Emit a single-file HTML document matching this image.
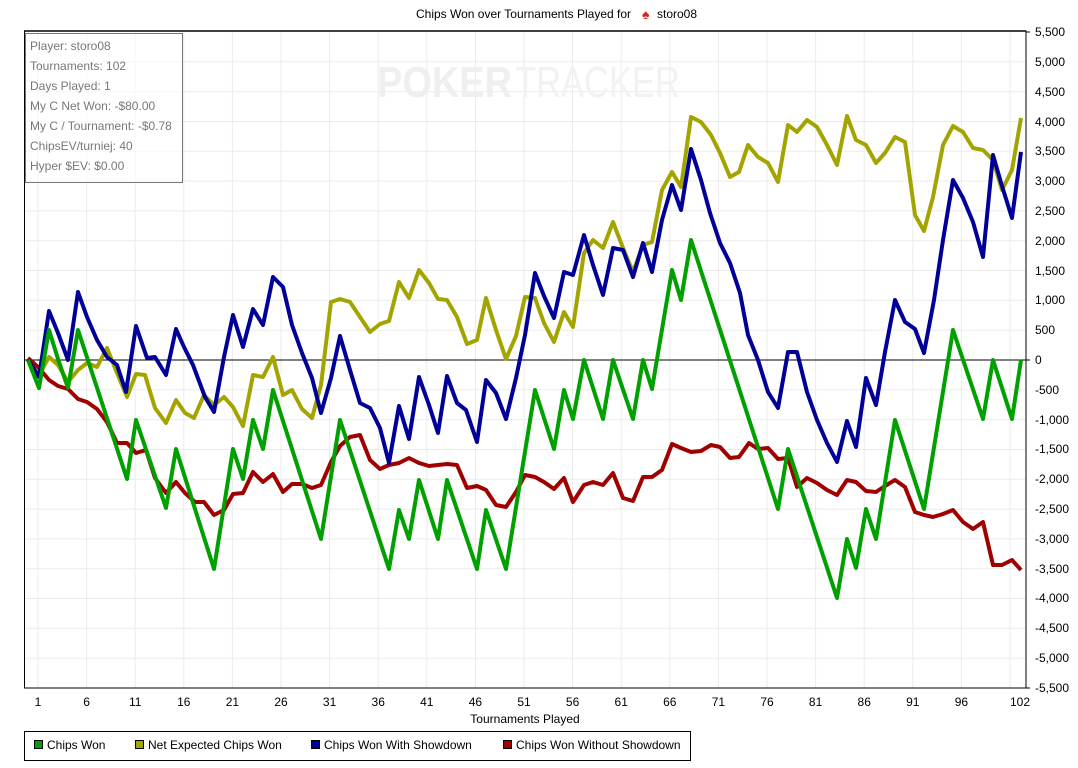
<!DOCTYPE html>
<html><head><meta charset="utf-8"><style>
body{margin:0;background:#fff;}
svg{display:block;font-family:"Liberation Sans",Arial,sans-serif;}
</style></head><body>
<svg width="1078" height="768" viewBox="0 0 1078 768" xmlns="http://www.w3.org/2000/svg">
<rect width="1078" height="768" fill="#fff"/>
<g stroke="#ebebeb" stroke-width="1">
<line x1="24" x2="1026" y1="61.8" y2="61.8"/><line x1="24" x2="1026" y1="91.6" y2="91.6"/><line x1="24" x2="1026" y1="121.5" y2="121.5"/><line x1="24" x2="1026" y1="151.3" y2="151.3"/><line x1="24" x2="1026" y1="181.1" y2="181.1"/><line x1="24" x2="1026" y1="210.9" y2="210.9"/><line x1="24" x2="1026" y1="240.7" y2="240.7"/><line x1="24" x2="1026" y1="270.5" y2="270.5"/><line x1="24" x2="1026" y1="300.4" y2="300.4"/><line x1="24" x2="1026" y1="330.2" y2="330.2"/><line x1="24" x2="1026" y1="389.8" y2="389.8"/><line x1="24" x2="1026" y1="419.6" y2="419.6"/><line x1="24" x2="1026" y1="449.5" y2="449.5"/><line x1="24" x2="1026" y1="479.3" y2="479.3"/><line x1="24" x2="1026" y1="509.1" y2="509.1"/><line x1="24" x2="1026" y1="538.9" y2="538.9"/><line x1="24" x2="1026" y1="568.7" y2="568.7"/><line x1="24" x2="1026" y1="598.5" y2="598.5"/><line x1="24" x2="1026" y1="628.4" y2="628.4"/><line x1="24" x2="1026" y1="658.2" y2="658.2"/>
<line y1="31" y2="688" x1="38" x2="38"/><line y1="31" y2="688" x1="86.6" x2="86.6"/><line y1="31" y2="688" x1="135.2" x2="135.2"/><line y1="31" y2="688" x1="183.8" x2="183.8"/><line y1="31" y2="688" x1="232.4" x2="232.4"/><line y1="31" y2="688" x1="281" x2="281"/><line y1="31" y2="688" x1="329.6" x2="329.6"/><line y1="31" y2="688" x1="378.2" x2="378.2"/><line y1="31" y2="688" x1="426.8" x2="426.8"/><line y1="31" y2="688" x1="475.4" x2="475.4"/><line y1="31" y2="688" x1="524" x2="524"/><line y1="31" y2="688" x1="572.6" x2="572.6"/><line y1="31" y2="688" x1="621.2" x2="621.2"/><line y1="31" y2="688" x1="669.8" x2="669.8"/><line y1="31" y2="688" x1="718.4" x2="718.4"/><line y1="31" y2="688" x1="767" x2="767"/><line y1="31" y2="688" x1="815.6" x2="815.6"/><line y1="31" y2="688" x1="864.2" x2="864.2"/><line y1="31" y2="688" x1="912.8" x2="912.8"/><line y1="31" y2="688" x1="961.4" x2="961.4"/><line y1="31" y2="688" x1="1010" x2="1010"/>
</g>
<text x="377" y="97" font-size="44" font-weight="bold" fill="#efefef" textLength="135" lengthAdjust="spacingAndGlyphs">POKER</text>
<text x="515" y="97" font-size="44" fill="#f2f2f2" textLength="165" lengthAdjust="spacingAndGlyphs">TRACKER</text>
<line x1="24" x2="1026" y1="360" y2="360" stroke="#000" stroke-width="1"/>
<g fill="none" stroke-width="4" stroke-linejoin="round">
<polyline stroke="#a4a400" points="28,360 39,375 49,357 58,365 68,382 78,370 87,363 97,367 107,348 117,373 127,397 136,374 145,375 155,408 166,423 176,400 185,413 194,418 204,395 214,405 224,397 233,407 243,426 253,375 263,377 273,357 283,395 292,390 302,409 312,418 321,385 331,302 340,299 350,302 360,317 370,332 380,324 389,321 399,282 409,298 419,270 429,283 438,299 447,300 457,317 467,344 477,340 486,298 496,330 506,359 516,336 525,297 535,298 544,323 554,342 564,312 573,327 584,253 593,240 603,248 613,222 623,248 633,272 643,245 652,242 662,190 672,172 681,187 691,117 701,122 711,135 720,153 730,177 739,172 748,145 758,157 768,163 778,182 788,125 797,132 807,120 817,127 827,145 837,165 847,116 856,140 866,145 876,163 885,153 895,137 905,142 915,215 924,231 933,197 943,145 953,126 963,132 973,148 983,150 993,160 1002,190 1012,170 1021,118"/>
<polyline stroke="#a00000" points="28,358 39,368 49,380 58,386 68,389 78,399 87,402 97,409 107,422 117,443 127,443 136,453 146,450 155,478 166,493 176,482 185,493 195,502 204,502 214,515 224,510 233,494 243,493 253,472 263,482 273,474 283,492 292,484 302,484 312,488 321,485 331,462 340,446 350,437 360,435 370,460 380,469 389,465 399,463 409,458 419,463 429,466 438,465 447,464 457,465 467,488 477,486 486,490 496,505 506,507 516,492 525,475 535,477 544,482 554,489 564,478 573,502 584,485 593,482 603,485 613,473 623,498 633,501 643,477 652,477 662,470 672,444 681,448 691,452 701,451 711,445 720,447 730,458 739,457 749,443 758,449 768,448 778,459 788,458 797,487 807,478 817,483 827,490 837,495 847,480 856,482 866,491 876,492 885,486 895,480 905,487 915,512 924,515 933,517 943,514 953,510 963,522 973,529 983,522 993,565 1002,565 1012,560 1021,570"/>
<polyline stroke="#000099" points="28,360 39,377 49,311 58,333 68,360 78,292 87,317 97,340 107,357 117,365 126,392 136,326 147,358 155,357 166,375 176,329 184,347 193,365 205,397 214,412 224,357 233,315 243,347 253,309 263,325 273,277 283,287 292,325 302,353 312,378 321,413 331,378 340,336 350,370 360,403 370,408 380,428 389,463 399,406 409,439 419,377 429,405 438,433 447,376 457,403 466,410 477,442 486,380 496,393 506,419 516,378 525,335 535,273 544,296 554,318 564,272 573,275 584,235 593,265 603,295 613,248 623,250 633,277 643,243 652,272 662,220 672,185 681,210 691,149 701,180 710,213 720,243 730,263 740,293 748,335 758,360 768,392 778,408 788,352 797,352 807,392 817,420 827,443 837,462 847,421 856,447 866,378 876,405 885,352 895,300 905,322 915,329 924,353 934,300 943,240 953,180 963,198 973,222 983,257 993,155 1002,186 1012,218 1021,152"/>
<polyline stroke="#00a000" points="28,360 39,388 49,330 58,359 68,388 78,330 127,479 136,420 166,508 176,449 214,569 233,449 243,479 253,420 263,449 273,390 321,539 340,420 389,569 399,510 409,539 419,480 438,539 447,480 477,569 486,510 506,569 535,390 554,449 564,390 573,419 584,360 603,419 613,360 633,419 643,360 652,389 672,270 681,300 691,240 778,509 788,449 837,598 847,539 856,568 866,509 876,539 895,420 924,509 953,330 983,419 993,360 1012,419 1021,360"/>
</g>
<rect x="24.5" y="31" width="1001.5" height="657" fill="none" stroke="#000" stroke-width="1"/>
<line x1="24" x2="1026" y1="31" y2="31" stroke="#000" stroke-width="1.5"/>
<rect x="25.5" y="33.5" width="157" height="149" fill="#fff" fill-opacity="0.6" stroke="#777" stroke-width="1"/>
<g font-size="12" fill="#777">
<text x="30" y="50">Player: storo08</text>
<text x="30" y="70">Tournaments: 102</text>
<text x="30" y="90">Days Played: 1</text>
<text x="30" y="110">My C Net Won: -$80.00</text>
<text x="30" y="130">My C / Tournament: -$0.78</text>
<text x="30" y="150">ChipsEV/turniej: 40</text>
<text x="30" y="170">Hyper $EV: $0.00</text>
</g>
<text x="416" y="18" font-size="12" fill="#000">Chips Won over Tournaments Played for</text>
<text x="642" y="19" font-size="14" fill="#d22">♠</text>
<text x="657" y="18" font-size="12" fill="#000">storo08</text>
<g font-size="12" fill="#000">
<g stroke="#000"><line x1="1026" x2="1030" y1="32" y2="32"/><line x1="1026" x2="1030" y1="360" y2="360"/><line x1="1026" x2="1030" y1="688" y2="688"/></g>
<text x="1035" y="36">5,500</text><text x="1035" y="66">5,000</text><text x="1035" y="96">4,500</text><text x="1035" y="126">4,000</text><text x="1035" y="155">3,500</text><text x="1035" y="185">3,000</text><text x="1035" y="215">2,500</text><text x="1035" y="245">2,000</text><text x="1035" y="275">1,500</text><text x="1035" y="304">1,000</text><text x="1035" y="334">500</text><text x="1035" y="364">0</text><text x="1035" y="394">-500</text><text x="1035" y="424">-1,000</text><text x="1035" y="453">-1,500</text><text x="1035" y="483">-2,000</text><text x="1035" y="513">-2,500</text><text x="1035" y="543">-3,000</text><text x="1035" y="573">-3,500</text><text x="1035" y="602">-4,000</text><text x="1035" y="632">-4,500</text><text x="1035" y="662">-5,000</text><text x="1035" y="692">-5,500</text>
</g>
<g font-size="12" fill="#000" text-anchor="middle">
<text x="38" y="706">1</text><text x="86.6" y="706">6</text><text x="135.2" y="706">11</text><text x="183.8" y="706">16</text><text x="232.4" y="706">21</text><text x="281" y="706">26</text><text x="329.6" y="706">31</text><text x="378.2" y="706">36</text><text x="426.8" y="706">41</text><text x="475.4" y="706">46</text><text x="524" y="706">51</text><text x="572.6" y="706">56</text><text x="621.2" y="706">61</text><text x="669.8" y="706">66</text><text x="718.4" y="706">71</text><text x="767" y="706">76</text><text x="815.6" y="706">81</text><text x="864.2" y="706">86</text><text x="912.8" y="706">91</text><text x="961.4" y="706">96</text><text x="1020" y="706">102</text>
<text x="525" y="723">Tournaments Played</text>
</g>
<rect x="24.5" y="731.5" width="666" height="29" fill="#fff" stroke="#000"/>
<g font-size="12" fill="#000">
<rect x="34.5" y="740.5" width="8" height="8" fill="#00a000" stroke="#000"/><text x="47" y="749">Chips Won</text>
<rect x="135.5" y="740.5" width="8" height="8" fill="#a4a400" stroke="#000"/><text x="148" y="749">Net Expected Chips Won</text>
<rect x="311.5" y="740.5" width="8" height="8" fill="#000099" stroke="#000"/><text x="324" y="749">Chips Won With Showdown</text>
<rect x="503.5" y="740.5" width="8" height="8" fill="#a00000" stroke="#000"/><text x="516" y="749">Chips Won Without Showdown</text>
</g>
</svg>
</body></html>
